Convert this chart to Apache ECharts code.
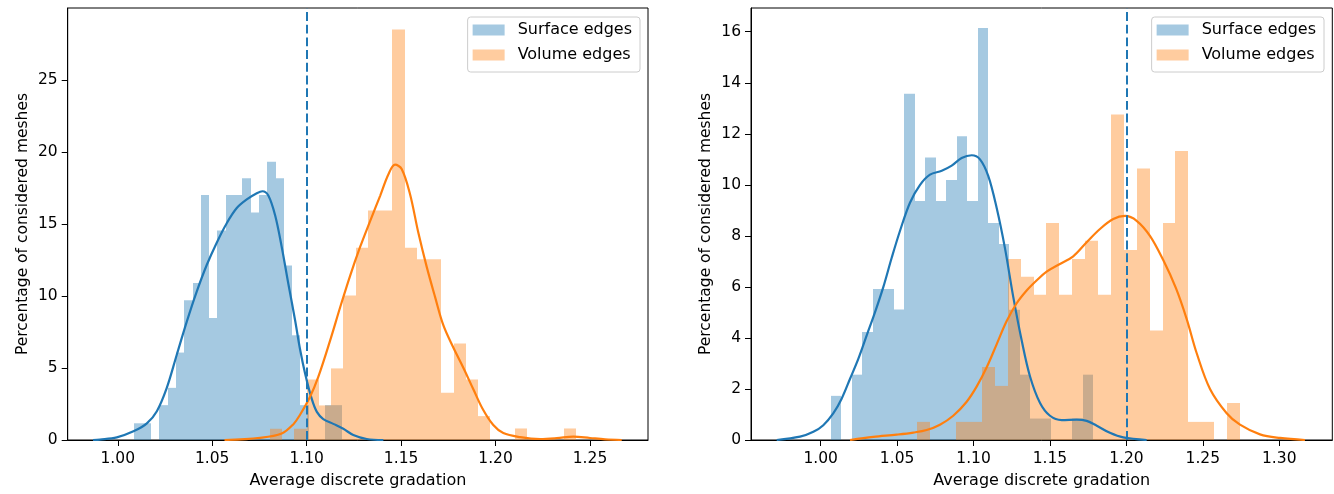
<!DOCTYPE html>
<html><head><meta charset="utf-8">
<script src="https://cdn.jsdelivr.net/npm/echarts@6/dist/echarts.min.js"></script>
<style>html,body{margin:0;padding:0;background:#fff}#c{width:1334px;height:494px}</style>
</head><body><div id="c"></div>
<script>
// ---------- data ----------
const surfaceLabel = 'Surface edges';
const volumeLabel = 'Volume edges';
const xAxisTitle = 'Average discrete gradation';
const yAxisTitle = 'Percentage of considered meshes';

const xTicksLeft = [1.00, 1.05, 1.10, 1.15, 1.20, 1.25];
const yTicksLeft = [0, 5, 10, 15, 20, 25];
const xTicksRight = [1.00, 1.05, 1.10, 1.15, 1.20, 1.25, 1.30];
const yTicksRight = [0, 2, 4, 6, 8, 10, 12, 14, 16];

const thresholdLeft = 1.10;
const thresholdRight = 1.20;

// histograms: [first bin edge, last bin edge] + bar heights (25 equal bins)
const leftSurfaceBinRange = [1.0088, 1.1187];
const leftSurfaceHist = [1.16,1.16,0,2.42,3.62,6.07,9.70,10.90,17.0,8.47,14.54,17.0,17.0,18.17,15.79,17.0,19.32,18.17,12.12,7.27,2.42,0,0,2.42,2.42];
const leftVolumeBinRange = [1.0805, 1.2426];
const leftVolumeHist = [0.78,0,0.78,4.2,2.4,4.97,10.04,13.35,15.93,15.93,28.5,13.35,12.54,12.54,3.28,6.7,4.2,1.66,0,0,0.8,0,0,0,0.8];

const rightSurfaceBinRange = [1.0065, 1.1783];
const rightSurfaceHist = [1.73,0,2.56,4.23,5.92,5.92,5.11,13.57,9.37,11.07,9.37,10.19,11.9,9.37,16.15,8.5,7.68,5.1,2.56,0.84,0.84,0,0,0.84,2.56];
const rightVolumeBinRange = [1.0633, 1.2743];
const rightVolumeHist = [0.71,0,0,0.71,0.71,2.86,2.12,7.09,6.4,5.69,8.5,5.69,7.09,7.81,5.69,12.76,7.45,10.64,4.29,8.5,11.33,0.71,0.71,0,1.45];

// density curves
const leftSurfaceKde = [[0.9869,0],[0.9906,0.03],[0.9995,0.18],[1.0083,0.6],[1.0154,1.15],[1.0207,2.0],[1.0259,3.6],[1.0312,5.9],[1.0365,8.2],[1.0418,10.3],[1.0471,12.15],[1.0524,13.7],[1.0577,15.05],[1.0630,16.1],[1.0683,16.7],[1.0736,17.13],[1.0766,17.27],[1.0797,16.97],[1.0833,15.6],[1.0868,13.4],[1.0903,10.85],[1.0939,8.3],[1.0965,6.3],[1.0992,4.6],[1.1027,2.85],[1.1054,1.95],[1.1088,1.45],[1.1141,1.12],[1.1194,0.78],[1.1247,0.35],[1.1318,0.07],[1.1406,0]];
const leftVolumeKde = [[1.0565,0],[1.0753,0.15],[1.0868,0.45],[1.0930,1.1],[1.0965,1.75],[1.1018,3.0],[1.1062,4.4],[1.1124,6.9],[1.1177,9.2],[1.1230,11.4],[1.1283,13.4],[1.1336,15.2],[1.1389,16.95],[1.1433,18.45],[1.1468,19.11],[1.1503,18.82],[1.1547,17.08],[1.1591,14.4],[1.1636,12.0],[1.1680,9.92],[1.1724,7.95],[1.1777,6.4],[1.1830,5.0],[1.1883,3.5],[1.1935,2.08],[1.1988,1.04],[1.2041,0.48],[1.2130,0.2],[1.2236,0.07],[1.2324,0.13],[1.2412,0.24],[1.2500,0.14],[1.2580,0.05],[1.2668,0]];
const rightSurfaceKde = [[0.9712,0],[0.9865,0.13],[0.9952,0.32],[1.0017,0.58],[1.0082,1.04],[1.0137,1.62],[1.0192,2.4],[1.0246,3.18],[1.0301,4.1],[1.0355,5.0],[1.0410,6.0],[1.0465,7.15],[1.0519,8.2],[1.0584,9.3],[1.0650,10.0],[1.0715,10.4],[1.0792,10.55],[1.0857,10.75],[1.0922,11.05],[1.0988,11.16],[1.1042,11.0],[1.1096,10.35],[1.1151,9.1],[1.1206,7.5],[1.1260,5.6],[1.1315,3.9],[1.1369,2.5],[1.1435,1.45],[1.1500,0.95],[1.1577,0.78],[1.1675,0.8],[1.1740,0.75],[1.1806,0.56],[1.1892,0.28],[1.1979,0.1],[1.2133,0]];
const rightVolumeKde = [[1.0192,0],[1.0344,0.12],[1.0497,0.21],[1.0606,0.29],[1.0693,0.39],[1.0780,0.6],[1.0867,0.95],[1.0955,1.5],[1.1021,2.1],[1.1086,2.85],[1.1151,3.75],[1.1216,4.65],[1.1281,5.35],[1.1346,5.85],[1.1412,6.25],[1.1478,6.6],[1.1565,6.9],[1.1652,7.2],[1.1740,7.75],[1.1827,8.27],[1.1914,8.66],[1.1991,8.78],[1.2067,8.59],[1.2154,8.0],[1.2241,7.05],[1.2324,5.95],[1.2394,4.75],[1.2460,3.4],[1.2547,2.0],[1.2656,1.05],[1.2743,0.6],[1.2874,0.22],[1.3005,0.08],[1.3168,0]];

// ---------- styling ----------
const FONT = 'DejaVu Sans';
const FS = 15.5;
const FS_NAME = 16;
const BLUE = '#1f77b4', ORANGE = '#ff7f0e';
const BLUE_A = 'rgba(31,119,180,0.4)', ORANGE_A = 'rgba(255,127,14,0.4)';

function histSeries(name, range, heights, fill, idx) {
  const w = (range[1] - range[0]) / heights.length;
  const data = heights.map((h, i) => [range[0] + i * w, range[0] + (i + 1) * w, h]);
  return {
    type: 'custom', name, xAxisIndex: idx, yAxisIndex: idx, data, silent: true,
    encode: { x: [0, 1], y: 2 },
    renderItem: (p, api) => {
      const a = api.coord([api.value(0), api.value(2)]);
      const b = api.coord([api.value(1), 0]);
      const x0 = Math.round(a[0]), x1 = Math.round(b[0]);
      return { type: 'rect', shape: { x: x0, y: a[1], width: x1 - x0, height: b[1] - a[1] }, style: { fill } };
    }
  };
}
function kdeSeries(name, data, color, idx, threshold) {
  const s = {
    type: 'line', name, xAxisIndex: idx, yAxisIndex: idx, data, smooth: 0.35,
    showSymbol: false, symbol: 'none', silent: true,
    lineStyle: { color, width: 2.2 }, itemStyle: { color }
  };
  if (threshold !== undefined) {
    s.markLine = {
      silent: true, symbol: ['none', 'none'], label: { show: false },
      lineStyle: { color: BLUE, width: 2, type: [8.9, 3.8] },
      data: [{ xAxis: threshold }]
    };
  }
  return s;
}
function xAxis(idx, min, max, ticks) {
  return {
    type: 'value', gridIndex: idx, min, max,
    name: xAxisTitle, nameLocation: 'middle', nameGap: 33,
    nameTextStyle: { fontFamily: FONT, fontSize: FS_NAME, color: '#000' },
    axisLine: { show: true, onZero: false, lineStyle: { color: '#000', width: 1 } },
    axisTick: { show: true, length: 6, customValues: ticks, lineStyle: { color: '#000', width: 1 } },
    axisLabel: { customValues: ticks, margin: 11, fontFamily: FONT, fontSize: FS, color: '#000',
      formatter: v => Number(v).toFixed(2) },
    splitLine: { show: false }
  };
}
function yAxis(idx, max, ticks) {
  return {
    type: 'value', gridIndex: idx, min: 0, max,
    name: yAxisTitle, nameLocation: 'middle', nameRotate: 90, nameGap: 37,
    nameTextStyle: { fontFamily: FONT, fontSize: FS, color: '#000' },
    axisLine: { show: true, lineStyle: { color: '#000', width: 1 } },
    axisTick: { show: true, length: 6, customValues: ticks, lineStyle: { color: '#000', width: 1 } },
    axisLabel: { customValues: ticks, margin: 10, fontFamily: FONT, fontSize: FS, color: '#000',
      formatter: v => String(v) },
    splitLine: { show: false }
  };
}
function legend(right) {
  return {
    right, top: 17, orient: 'vertical', selectedMode: false, icon: 'rect',
    itemWidth: 32, itemHeight: 11, itemGap: 7, padding: [4, 8, 8, 5],
    borderColor: '#cccccc', borderWidth: 1, borderRadius: 3, backgroundColor: 'rgba(255,255,255,0.8)',
    textStyle: { fontFamily: FONT, fontSize: FS_NAME, color: '#000', lineHeight: 18, padding: [0, 0, 0, 8] },
    data: [{ name: surfaceLabel, itemStyle: { color: BLUE_A } }, { name: volumeLabel, itemStyle: { color: ORANGE_A } }]
  };
}

const chart = echarts.init(document.getElementById('c'), null, { renderer: 'canvas' });
chart.setOption({
  animation: false,
  backgroundColor: '#fff',
  grid: [
    { left: 67.7, right: 686, top: 8, bottom: 53.5, show: true, borderColor: '#000', borderWidth: 1, backgroundColor: 'transparent' },
    { left: 751, right: 1.7, top: 8, bottom: 53.5, show: true, borderColor: '#000', borderWidth: 1, backgroundColor: 'transparent' }
  ],
  xAxis: [xAxis(0, 0.9735, 1.2807, xTicksLeft), xAxis(1, 0.9544, 1.3347, xTicksRight)],
  yAxis: [yAxis(0, 29.99, yTicksLeft), yAxis(1, 16.93, yTicksRight)],
  legend: [legend(694), legend(10)],
  series: [
    histSeries(surfaceLabel, leftSurfaceBinRange, leftSurfaceHist, BLUE_A, 0),
    kdeSeries('Surface density L', leftSurfaceKde, BLUE, 0),
    histSeries(volumeLabel, leftVolumeBinRange, leftVolumeHist, ORANGE_A, 0),
    kdeSeries('Volume density L', leftVolumeKde, ORANGE, 0, thresholdLeft),
    histSeries(surfaceLabel, rightSurfaceBinRange, rightSurfaceHist, BLUE_A, 1),
    kdeSeries('Surface density R', rightSurfaceKde, BLUE, 1),
    histSeries(volumeLabel, rightVolumeBinRange, rightVolumeHist, ORANGE_A, 1),
    kdeSeries('Volume density R', rightVolumeKde, ORANGE, 1, thresholdRight)
  ]
});
</script></body></html>
